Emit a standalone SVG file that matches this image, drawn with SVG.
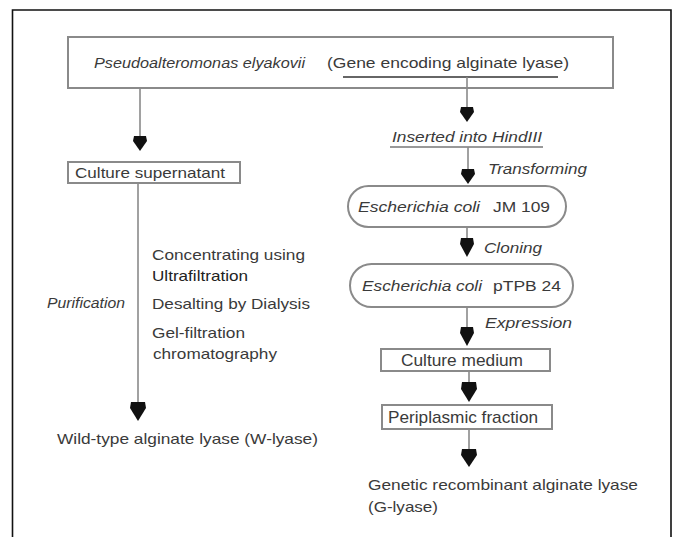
<svg xmlns="http://www.w3.org/2000/svg" width="674" height="537" viewBox="0 0 674 537">
<style>
text{font-family:"Liberation Sans",Arial,sans-serif;fill:#3a3a3a;font-size:15px}
.i{font-style:italic}
.b{fill:#222}
.big{font-size:17px}
.box{fill:#fff;stroke:#8a8a8a;stroke-width:2}
.ln{stroke:#8a8a8a;stroke-width:1.6;fill:none}
.ah{fill:#111}
</style>
<rect width="674" height="537" fill="#fff"/>
<path d="M12.5,537 V10 H671 V537" fill="none" stroke="#111" stroke-width="1.6"/>

<g id="source">
<rect class="box" x="68" y="37" width="545" height="51"/>
<text class="i" x="94" y="68" textLength="211" lengthAdjust="spacingAndGlyphs">Pseudoalteromonas elyakovii</text>
<text x="327" y="68" textLength="242" lengthAdjust="spacingAndGlyphs">(Gene encoding alginate lyase)</text>
</g>

<g id="supernatant">
<rect class="box" x="68" y="162" width="172" height="21"/>
<text x="75" y="178" textLength="150" lengthAdjust="spacingAndGlyphs">Culture supernatant</text>
</g>

<g id="purification">
<text class="i" x="47" y="308" font-size="16" textLength="78" lengthAdjust="spacingAndGlyphs">Purification</text>
<text x="152" y="260" textLength="153" lengthAdjust="spacingAndGlyphs">Concentrating using</text>
<text class="b" x="152" y="281" textLength="96" lengthAdjust="spacingAndGlyphs">Ultrafiltration</text>
<text x="152" y="309" textLength="158" lengthAdjust="spacingAndGlyphs">Desalting by Dialysis</text>
<text x="152" y="338" textLength="93" lengthAdjust="spacingAndGlyphs">Gel-filtration</text>
<text x="153" y="359" textLength="124" lengthAdjust="spacingAndGlyphs">chromatography</text>
</g>

<g id="wild-type">
<text x="57" y="444" textLength="261" lengthAdjust="spacingAndGlyphs">Wild-type alginate lyase (W-lyase)</text>
</g>

<g id="inserted">
<text class="i" x="392" y="142" textLength="150" lengthAdjust="spacingAndGlyphs">Inserted into HindIII</text>
</g>

<g id="transforming">
<text class="i" x="488" y="174" textLength="99" lengthAdjust="spacingAndGlyphs">Transforming</text>
</g>

<g id="ecoli-jm109">
<rect class="box" x="348" y="186" width="218" height="41" rx="20.5" stroke="#999"/>
<text class="i" x="358" y="212" textLength="122" lengthAdjust="spacingAndGlyphs">Escherichia coli</text>
<text x="493" y="212" textLength="57" lengthAdjust="spacingAndGlyphs">JM 109</text>
</g>

<g id="cloning">
<text class="i" x="484" y="253" textLength="58" lengthAdjust="spacingAndGlyphs">Cloning</text>
</g>

<g id="ecoli-ptpb24">
<rect class="box" x="350" y="264" width="223" height="43" rx="21.5" stroke="#999"/>
<text class="i" x="362" y="291" textLength="120" lengthAdjust="spacingAndGlyphs">Escherichia coli</text>
<text x="493" y="291" textLength="68" lengthAdjust="spacingAndGlyphs">pTPB 24</text>
</g>

<g id="expression">
<text class="i" x="485" y="328" textLength="87" lengthAdjust="spacingAndGlyphs">Expression</text>
</g>

<g id="culture-medium">
<rect class="box" x="381" y="349" width="169" height="22"/>
<text class="big" x="401" y="366" textLength="122" lengthAdjust="spacingAndGlyphs">Culture medium</text>
</g>

<g id="periplasmic">
<rect class="box" x="382" y="405" width="170" height="24"/>
<text class="big" x="388" y="423" textLength="150" lengthAdjust="spacingAndGlyphs">Periplasmic fraction</text>
</g>

<g id="recombinant">
<text x="368" y="490" textLength="270" lengthAdjust="spacingAndGlyphs">Genetic recombinant alginate lyase</text>
<text x="368" y="512" textLength="70" lengthAdjust="spacingAndGlyphs">(G-lyase)</text>
</g>

<g id="connectors">
<line class="ln" x1="140" y1="89" x2="140" y2="138"/>
<polygon class="ah" points="134,136 146,136 147,141 140,151 133,141"/>
<line class="ln" x1="138" y1="184" x2="138" y2="404"/>
<polygon class="ah" points="131,402 145,402 146,408 138,421 130,408"/>
<line x1="343" y1="77" x2="558" y2="77" stroke="#666" stroke-width="2.2"/>
<line class="ln" x1="467" y1="77" x2="467" y2="109"/>
<polygon class="ah" points="461,107 473,107 474,112 467,122 460,112"/>
<line x1="390" y1="147" x2="543" y2="147" stroke="#777" stroke-width="1.4"/>
<line class="ln" x1="468" y1="147" x2="468" y2="171"/>
<polygon class="ah" points="462,169 474,169 475,174 468,184 461,174"/>
<line class="ln" x1="467" y1="228" x2="467" y2="240"/>
<polygon class="ah" points="461,238 473,238 474,244 467,257 460,244"/>
<line class="ln" x1="467" y1="308" x2="467" y2="329"/>
<polygon class="ah" points="461,327 473,327 474,333 467,346 460,333"/>
<line class="ln" x1="469" y1="372" x2="469" y2="384"/>
<polygon class="ah" points="462,382 476,382 477,389 469,402 461,389"/>
<line class="ln" x1="469" y1="430" x2="469" y2="451"/>
<polygon class="ah" points="462,449 476,449 477,455 469,467 461,455"/>
</g>
</svg>
